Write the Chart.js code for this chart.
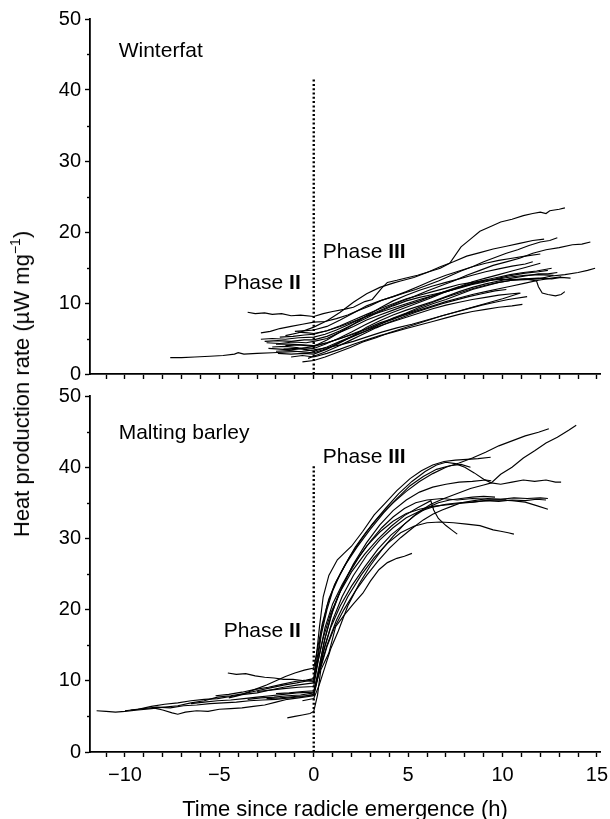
<!DOCTYPE html>
<html>
<head>
<meta charset="utf-8">
<script src="https://cdn.jsdelivr.net/npm/chart.js@4.4.0/dist/chart.umd.min.js"></script>
<style>
  body { margin: 0; background: #fff; }
  #wrap { position: relative; width: 610px; height: 819px; overflow: hidden;
          font-family: "Liberation Sans", Arial, sans-serif; color: #000; }
  canvas { position: absolute; left: 0; }
  #topChart { top: 0; }
  #botChart { top: 376px; }
  #ytitle { position: absolute; left: 22px; top: 384px; white-space: nowrap;
            font-size: 22px; transform: translate(-50%, -50%) rotate(-90deg); }
  #ytitle sup { font-size: 14px; vertical-align: 9px; line-height: 0; }
</style>
</head>
<body>
<div id="wrap">
  <canvas id="topChart" width="610" height="392"></canvas>
  <canvas id="botChart" width="610" height="443"></canvas>
  <div id="ytitle">Heat production rate (µW mg<sup>−1</sup>)</div>
</div>
<script>
// x = time since radicle emergence (h), y = heat production rate (µW mg-1)
const xMin = -11.85, xMax = 15.16;
const yMin = 0, yMax = 50;
const xTitle = 'Time since radicle emergence (h)';

// ---- Winterfat traces ----
const wf01 = [[-3.5,8.7],[-3.1,8.5],[-2.6,8.6],[-2.2,8.4],[-1.7,8.5],[-1.2,8.2],[-0.7,8.3],[0,8.1],[0.5,8.5],[1,8.8],[1.6,9.1],[2.1,9.4],[2.7,10.2],[3.1,10.5],[3.6,12.1],[3.9,12.9],[4.4,13.2],[5,13.6],[5.5,13.9],[6.1,14.4],[6.7,14.9],[7.2,15.6],[7.8,17.9],[8.3,19.0],[8.8,20.1],[9.4,20.8],[9.9,21.4],[10.5,21.8],[11.1,22.3],[11.6,22.6],[12,22.8],[12.3,22.6],[12.5,23.0],[13,23.2],[13.3,23.4]];
const wf02 = [[-7.6,2.3],[-7.0,2.3],[-6.3,2.4],[-5.5,2.5],[-4.8,2.6],[-4.2,2.8],[-4.0,3.0],[-3.7,2.8],[-3.0,2.9],[-2.2,3.0],[-1.4,3.1],[-0.6,3.2],[0,3.4],[0.7,3.7],[1.4,4.1],[2.1,4.6],[2.9,5.3],[3.6,5.9],[4.4,6.5],[5.2,7.0],[6,7.6],[6.8,8.2],[7.6,8.8],[8.4,9.4],[9.2,10.0],[10,10.6],[10.95,11.4]];
const wf03 = [[-2.8,5.8],[-2.3,6.0],[-1.8,6.4],[-1.2,6.7],[-0.6,7.0],[0,7.3],[0.6,7.4],[1.2,7.8],[1.8,8.3],[2.4,9.0],[3,9.6],[3.6,10.4],[4.2,10.9],[4.8,11.4],[5.4,11.9],[6,12.5],[6.6,13.1],[7.2,13.8],[7.8,14.5],[8.4,15.1],[9,15.8],[9.6,16.4],[10.2,17.0],[10.8,17.5],[11.4,18.1],[12,18.6],[12.5,18.8],[12.9,19.2]];
const wf04 = [[-2.8,4.9],[-2.2,5.0],[-1.5,4.9],[-0.8,5.1],[0,5.2],[0.6,5.6],[1.2,6.2],[1.8,6.9],[2.5,7.8],[3.2,8.6],[3.9,9.4],[4.6,10.2],[5.3,10.9],[6,11.7],[6.7,12.4],[7.4,13.1],[8.1,13.9],[8.8,14.6],[9.5,15.3],[10.2,15.8],[10.9,16.3],[11.6,17.0],[12.3,17.5],[13,17.8],[13.7,18.2],[14.2,18.3],[14.65,18.6]];
const wf05 = [[-2.5,4.4],[-1.8,4.3],[-1.1,4.5],[-0.4,4.4],[0,4.6],[0.7,5.0],[1.4,5.9],[2.1,6.7],[2.8,7.6],[3.5,8.3],[4.2,9.0],[4.9,9.7],[5.6,10.3],[6.3,11.0],[7,11.7],[7.7,12.3],[8.4,13.0],[9.1,13.5],[9.8,14.0],[10.5,14.5],[11.2,15.0],[12,15.6]];
const wf06 = [[-2.2,3.8],[-1.5,3.9],[-0.8,3.7],[0,3.6],[0.6,4.2],[1.3,5.0],[2,5.9],[2.7,6.9],[3.4,7.8],[4.1,8.6],[4.8,9.3],[5.5,10.0],[6.2,10.7],[6.9,11.5],[7.6,12.1],[8.3,12.7],[9,13.2],[9.7,13.6],[10.4,14.0],[11.1,14.3],[11.8,14.5],[12.6,14.9]];
const wf07 = [[-2,3.2],[-1.3,3.3],[-0.6,3.1],[0,3.0],[0.7,3.6],[1.4,4.5],[2.1,5.3],[2.8,6.1],[3.5,7.0],[4.2,7.9],[4.9,8.6],[5.6,9.4],[6.3,10.1],[7,10.8],[7.7,11.4],[8.4,12.0],[9.1,12.5],[9.8,12.9],[10.5,13.2],[11.2,13.3],[11.9,13.4],[12.6,13.8],[13.3,14.0],[14,14.3],[14.5,14.6],[14.9,14.9]];
const wf08 = [[-1.8,5.2],[-1.1,5.3],[-0.5,5.5],[0,5.6],[0.7,6.1],[1.4,6.8],[2.1,7.6],[2.8,8.4],[3.5,9.2],[4.2,9.9],[4.9,10.6],[5.6,11.1],[6.3,11.6],[7,12.1],[7.7,12.6],[8.4,12.9],[9.1,13.2],[9.8,13.3],[10.5,13.3],[11.2,13.4],[11.8,13.1],[11.9,12.3],[12.1,11.4],[12.4,11.2],[12.8,11.0],[13.1,11.2],[13.3,11.6]];
const wf09 = [[-1.5,4.0],[-0.8,4.1],[0,3.9],[0.7,4.4],[1.4,5.0],[2.1,5.6],[2.8,6.3],[3.5,7.0],[4.2,7.7],[4.9,8.5],[5.6,9.2],[6.3,9.9],[7,10.5],[7.7,11.2],[8.4,11.9],[9.1,12.4],[9.8,12.9],[10.5,13.2],[11.2,13.4],[11.9,13.5],[12.6,13.4],[13.1,13.6],[13.6,13.5]];
const wf10 = [[-1.2,2.4],[-0.6,2.6],[0,2.4],[0.7,2.9],[1.4,3.5],[2.1,4.2],[2.8,4.8],[3.5,5.4],[4.2,5.9],[4.9,6.4],[5.6,6.9],[6.3,7.4],[7,7.9],[7.7,8.4],[8.4,8.8],[9.1,9.1],[9.8,9.4],[10.5,9.6],[11.05,9.8]];
const wf11 = [[-0.6,1.7],[0,1.9],[0.6,2.4],[1.2,3.0],[1.9,3.7],[2.6,4.5],[3.3,5.1],[4,5.8],[4.7,6.4],[5.4,7.0],[6.1,7.6],[6.8,8.2],[7.5,8.7],[8.2,9.2],[8.9,9.7],[9.6,10.1],[10.3,10.5],[11.3,10.9]];
const wf12 = [[-2.6,4.6],[-1.9,4.7],[-1.2,4.6],[-0.5,4.8],[0,4.8],[0.7,5.3],[1.4,6.1],[2.1,7.0],[2.8,7.9],[3.5,8.8],[4.2,9.6],[4.9,10.3],[5.6,10.8],[6.3,11.2],[7,11.6],[7.7,12.2],[8.4,12.7],[9.1,13.1],[9.8,13.4],[10.5,13.7],[11.2,13.9],[11.9,14.0],[12.7,13.9]];
const wf13 = [[-1,6.0],[-0.4,6.1],[0,6.2],[0.7,6.7],[1.4,7.6],[2.1,8.6],[2.8,9.6],[3.5,10.3],[4.2,10.9],[4.9,11.6],[5.6,12.4],[6.3,13.2],[7,13.9],[7.7,14.5],[8.4,15.1],[9.1,15.6],[9.8,16.0],[10.5,16.3],[11.2,16.6],[12,16.9]];
const wf14 = [[-0.85,5.9],[-0.3,5.8],[0,5.7],[0.7,6.1],[1.4,6.7],[2.1,7.4],[2.8,8.1],[3.5,8.7],[4.2,9.3],[4.9,9.9],[5.6,10.5],[6.3,11.0],[7,11.6],[7.7,12.1],[8.4,12.6],[9.1,13.0],[9.8,13.5],[10.5,13.9],[11.2,14.2],[11.9,14.4],[12.4,14.6]];
const wf15 = [[-2,4.2],[-1.3,4.2],[-0.6,4.1],[0,4.0],[0.7,4.4],[1.4,5.0],[2.1,5.7],[2.8,6.4],[3.5,7.2],[4.2,7.8],[4.9,8.4],[5.6,9.0],[6.3,9.6],[7,10.2],[7.7,10.7],[8.4,11.2],[9.1,11.6],[9.8,12.0],[10.5,12.4],[11.2,12.8],[11.9,13.2],[12.6,13.5],[13.1,13.7]];
const wf16 = [[-1.6,3.5],[-0.9,3.6],[-0.3,3.4],[0,3.2],[0.7,3.8],[1.4,4.6],[2.1,5.4],[2.8,6.1],[3.5,6.8],[4.2,7.4],[4.9,8.0],[5.6,8.6],[6.3,9.2],[7,9.7],[7.7,10.1],[8.4,10.5],[9.1,10.8],[9.8,11.1],[10.5,11.3],[10.9,11.4]];
const wf17 = [[-0.3,2.2],[0,2.5],[0.6,3.1],[1.2,3.8],[1.9,4.7],[2.6,5.6],[3.3,6.5],[4,7.3],[4.7,8.0],[5.4,8.7],[6.1,9.3],[6.8,9.9],[7.5,10.4],[8.2,10.9],[8.9,11.3],[9.6,11.7],[10.2,11.9]];
const wf18 = [[-2.4,3.6],[-1.8,3.5],[-1.2,3.4],[-0.6,3.6],[0,3.9],[0.7,4.8],[1.4,5.9],[2.1,7.0],[2.8,8.2],[3.5,9.3],[4.2,10.3],[4.9,11.1],[5.6,11.8],[6.3,12.4],[7,12.9],[7.7,13.4],[8.4,13.9],[9.1,14.4],[9.8,14.8],[10.5,15.2],[11.2,15.5],[11.6,15.8]];
const wf19 = [[-1.9,2.9],[-1.2,2.8],[-0.5,2.9],[0,2.8],[0.7,3.5],[1.4,4.4],[2.1,5.4],[2.8,6.6],[3.5,7.5],[4.2,8.3],[4.9,9.0],[5.6,9.6],[6.3,10.2],[7,10.9],[7.7,11.6],[8.4,12.2],[9.1,12.7],[9.8,13.1],[10.5,13.5],[11.2,13.8],[11.9,14.1],[12.4,14.1],[12.9,14.3]];
const wf20 = [[-1.5,5.4],[-0.8,5.8],[0,6.6],[0.7,7.5],[1.4,8.7],[2.1,10.1],[2.8,11.3],[3.5,12.2],[4.2,12.8],[4.6,13.1],[5.3,13.6],[6,14.3],[6.7,15.1],[7.4,15.8],[8.1,16.6],[8.8,17.1],[9.5,17.6],[10.2,18.0],[10.9,18.4],[11.6,18.8],[12.2,19.0]];

// ---- Malting barley traces ----
const mb01 = [[-11.5,5.8],[-11,5.7],[-10.5,5.6],[-10,5.7],[-9.3,5.9],[-8.6,6.1],[-7.9,6.3],[-7.2,6.5],[-6.5,6.9],[-5.8,7.2],[-5.1,7.7],[-4.4,7.9],[-3.7,8.2],[-3,8.6],[-2.3,9.0],[-1.6,9.4],[-0.9,9.7],[-0.3,10.0],[0,10.1],[0.1,12.5],[0.3,17.5],[0.5,21.8],[0.8,24.8],[1.25,27.0],[1.6,27.9],[2,28.9],[2.6,31.0],[3.2,33.3],[3.8,35.0],[4.4,36.7],[5.1,38.4],[5.7,39.5],[6.3,40.3],[6.9,40.8],[7.5,41.0],[8.1,41.1],[8.7,41.2],[9.37,41.4]];
const mb02 = [[-10,5.8],[-9.3,6.0],[-8.6,6.4],[-7.9,6.7],[-7.2,6.9],[-6.5,7.2],[-5.8,7.4],[-5.1,7.5],[-4.4,7.8],[-3.7,8.1],[-3,8.3],[-2.3,8.7],[-1.6,9.1],[-0.9,9.4],[-0.3,9.6],[0,9.7],[0.2,12.8],[0.4,16.5],[0.7,20.0],[1,22.6],[1.4,25.0],[1.9,27.4],[2.5,29.8],[3.1,32.0],[3.8,34.2],[4.5,36.3],[5.2,38.0],[5.9,39.4],[6.5,40.3],[7,40.7],[7.5,40.5],[8,40.0],[8.5,39.2],[9,38.3],[9.4,37.8],[9.9,37.6],[10.5,37.9],[11.1,38.2],[11.7,38.0],[12.3,38.2],[12.8,37.9],[13.1,37.9]];
const mb03 = [[-8.5,6.2],[-8,5.9],[-7.5,5.5],[-7.2,5.3],[-6.8,5.6],[-6.2,5.8],[-5.6,5.7],[-5,6.0],[-4.4,6.1],[-3.8,6.2],[-3.2,6.4],[-2.6,6.6],[-2,7.0],[-1.4,7.4],[-0.8,7.6],[0,7.9],[0.2,10.2],[0.5,14.0],[0.9,17.5],[1.4,20.5],[2,23.3],[2.7,26.0],[3.4,28.5],[4.1,30.5],[4.8,32.0],[5.5,33.6],[6.2,34.8],[6.9,35.6],[7.6,36.3],[8.3,37.0],[9,37.5],[9.4,37.8],[9.9,39.0],[10.5,40.0],[11.1,41.3],[11.7,42.3],[12.3,43.4],[12.9,44.2],[13.5,45.2],[13.9,45.9]];
const mb04 = [[-5.2,7.9],[-4.5,8.1],[-3.8,8.4],[-3.1,8.8],[-2.4,9.1],[-1.7,9.5],[-1,9.9],[-0.4,10.1],[0,10.3],[0.2,13.5],[0.4,17.0],[0.7,20.5],[1.1,23.5],[1.6,26.0],[2.2,28.8],[2.8,31.0],[3.5,33.2],[4.2,35.0],[4.9,36.6],[5.6,38.0],[6.3,39.1],[7,40.0],[7.7,40.6],[8.4,41.3],[9.1,42.1],[9.8,43.0],[10.5,43.7],[11.2,44.4],[11.9,44.9],[12.45,45.4]];
const mb05 = [[-4.55,11.1],[-4.1,10.9],[-3.6,11.0],[-3.1,10.7],[-2.6,10.5],[-2.1,10.4],[-1.6,10.2],[-1.1,10.2],[-0.5,10.0],[0,9.9],[0.2,12.5],[0.5,16.0],[0.9,19.5],[1.4,22.5],[2,25.3],[2.7,27.8],[3.4,29.9],[4.1,31.7],[4.8,33.2],[5.5,34.3],[6.2,35.3],[6.35,34.0],[6.6,32.8],[7,31.8],[7.3,31.2],[7.6,30.6]];
const mb06 = [[-1.4,4.8],[-1.0,5.0],[-0.6,5.2],[-0.2,5.4],[0,5.7],[0.2,8.0],[0.37,11.5],[0.8,13.9],[1.16,17.6],[1.6,19.2],[2.1,20.8],[2.6,22.3],[3,24.0],[3.45,25.6],[3.9,26.6],[4.4,27.2],[4.8,27.5],[5.2,27.9]];
const mb07 = [[-3,8.5],[-2.3,8.7],[-1.6,8.9],[-0.8,9.1],[0,9.2],[0.25,13.0],[0.6,17.5],[1,20.8],[1.5,23.5],[2.1,26.3],[2.8,28.9],[3.5,30.9],[4.2,32.4],[4.9,33.5],[5.6,34.1],[6.3,34.5],[7,34.7],[7.7,34.9],[8.4,35.1],[9.1,35.3],[9.8,35.2],[10.5,35.4],[11.2,35.3],[11.8,35.5],[12.3,35.4]];
const mb08 = [[-2.5,7.5],[-1.8,7.6],[-1,7.8],[-0.4,7.9],[0,8.0],[0.25,11.0],[0.6,15.0],[1,18.5],[1.5,21.8],[2.1,24.8],[2.8,27.6],[3.5,29.8],[4.2,31.5],[4.9,32.9],[5.6,33.8],[6.3,34.4],[7,34.8],[7.7,35.0],[8.4,35.1],[9.1,35.3],[9.8,35.4],[10.5,35.3],[11.2,35.1],[11.8,34.6],[12.4,34.1]];
const mb09 = [[-2,8.2],[-1.3,8.3],[-0.6,8.5],[0,8.6],[0.3,11.5],[0.7,15.0],[1.2,18.5],[1.8,21.8],[2.5,24.8],[3.2,27.3],[3.9,29.3],[4.6,30.8],[5.3,31.7],[6,32.2],[6.7,32.3],[7.4,32.2],[8.1,32.0],[8.8,31.8],[9.5,31.2],[9.9,31.0],[10.3,30.8],[10.6,30.6]];
const mb10 = [[-4.5,7.6],[-4,7.9],[-3.5,8.4],[-3,8.9],[-2.5,9.4],[-2,10.0],[-1.5,10.6],[-1,11.1],[-0.5,11.5],[0,11.8],[0.2,14.5],[0.45,18.0],[0.8,21.5],[1.2,24.0],[1.7,26.4],[2.3,28.8],[3,31.3],[3.7,33.6],[4.4,35.6],[5.1,37.4],[5.8,38.7],[6.5,39.7],[7.2,40.2],[7.8,40.4],[8.3,40.0]];
const mb11 = [[-6.5,6.8],[-5.8,7.0],[-5.1,7.2],[-4.4,7.3],[-3.7,7.5],[-3,7.7],[-2.3,7.9],[-1.6,8.1],[-0.9,8.3],[0,8.4],[0.3,11.2],[0.7,14.8],[1.1,17.5],[1.6,20.0],[2.2,22.6],[2.8,24.8],[3.4,26.8],[4,28.6],[4.6,30.1],[5.2,31.4],[5.8,32.6],[6.3,33.4],[6.8,34.0],[7.3,34.5],[7.8,35.0],[8.5,35.3],[9.2,35.6],[9.9,35.5],[10.6,35.7],[11.3,35.6],[12,35.7],[12.4,35.6]];
const mb12 = [[-0.6,7.2],[0,7.5],[0.3,9.5],[0.6,12.0],[0.9,14.5],[1.3,17.0],[1.8,20.5],[2.4,23.6],[3,26.2],[3.6,28.4],[4.2,30.3],[4.8,32.0],[5.4,33.3],[6,34.3],[6.6,35.0],[7.2,35.4],[7.8,35.6],[8.4,35.8],[9,35.9],[9.6,35.8]];
const mb13 = [[-9.7,5.9],[-9,6.1],[-8.3,6.3],[-7.6,6.2],[-6.9,6.5],[-6.2,6.6],[-5.5,6.8],[-4.8,6.9],[-4.1,7.0],[-3.4,7.2],[-2.7,7.3],[-2,7.4],[-1.3,7.6],[-0.6,7.8],[0,8.1],[0.25,11.5],[0.55,15.5],[0.9,19.0],[1.3,22.0],[1.8,24.8],[2.4,27.4],[3,29.6],[3.6,31.5],[4.2,33.0],[4.8,34.2],[5.4,35.0],[6,35.4],[6.8,35.6],[7.6,35.4],[8.4,35.6],[9.3,35.5],[10.2,35.5]];
const mb14 = [[-3.5,7.4],[-2.8,7.6],[-2.1,7.7],[-1.4,7.9],[-0.7,8.0],[0,8.3],[0.3,12.0],[0.6,16.0],[1,19.8],[1.5,23.2],[2.1,26.4],[2.8,29.4],[3.5,31.9],[4.2,33.9],[4.9,35.4],[5.6,36.5],[6.3,37.2],[7,37.6],[7.7,37.9],[8.4,38.0],[9.1,38.2],[9.4,38.1]];

// dotted line at radicle emergence (x = 0)
const topDivider = [[0,0],[0,41.5]];
const botDivider = [[0,0],[0,40.3]];

const winterfat = [wf01,wf02,wf03,wf04,wf05,wf06,wf07,wf08,wf09,wf10,wf11,wf12,wf13,wf14,wf15,wf16,wf17,wf18,wf19,wf20];
const barley = [mb01,mb02,mb03,mb04,mb05,mb06,mb07,mb08,mb09,mb10,mb11,mb12,mb13,mb14];

// panel annotations, placed in data coordinates
const topNotes = [
  { parts: [['Winterfat', 'normal']], x: -10.33, y: 45.4 },
  { parts: [['Phase ', 'normal'], ['II', 'bold']], x: -4.77, y: 12.8 },
  { parts: [['Phase ', 'normal'], ['III', 'bold']], x: 0.48, y: 17.2 }
];
const botNotes = [
  { parts: [['Malting barley', 'normal']], x: -10.33, y: 44.8 },
  { parts: [['Phase ', 'normal'], ['II', 'bold']], x: -4.77, y: 17.0 },
  { parts: [['Phase ', 'normal'], ['III', 'bold']], x: 0.48, y: 41.4 }
];

const FONT = '"Liberation Sans", Arial, sans-serif';

const notesPlugin = {
  id: 'notes',
  afterDatasetsDraw(chart, args, opts) {
    const { ctx, scales: { x, y } } = chart;
    ctx.save();
    ctx.fillStyle = '#000';
    ctx.textBaseline = 'middle';
    ctx.textAlign = 'left';
    opts.items.forEach(n => {
      let px = x.getPixelForValue(n.x);
      const py = y.getPixelForValue(n.y);
      n.parts.forEach(([txt, weight]) => {
        ctx.font = weight + ' 21px ' + FONT;
        ctx.fillText(txt, px, py);
        px += ctx.measureText(txt).width;
      });
    });
    ctx.restore();
  }
};

// short minor ticks on the y axis
const minorTicks = {
  id: 'minorTicks',
  afterDraw(chart) {
    const { ctx, scales: { y } } = chart;
    ctx.save();
    ctx.strokeStyle = '#000';
    ctx.lineWidth = 1.4;
    y.ticks.forEach(t => {
      if (t.value % 10 !== 0) {
        const py = Math.round(y.getPixelForValue(t.value)) + 0.5;
        ctx.beginPath();
        ctx.moveTo(y.right - 3, py);
        ctx.lineTo(y.right, py);
        ctx.stroke();
      }
    });
    ctx.restore();
  }
};

const fmtX = v => (v < 0 ? '\u2212' + Math.abs(v) : String(v));

function panel(id, series, divider, notes, bottom) {
  const datasets = series.map(s => ({
    data: s, borderColor: '#000', borderWidth: 1.15, pointRadius: 0, tension: 0, fill: false
  }));
  datasets.push({
    data: divider, borderColor: '#000', borderWidth: 2.4, borderDash: [2, 2.3],
    pointRadius: 0, fill: false
  });
  return new Chart(document.getElementById(id), {
    type: 'line',
    data: { datasets },
    options: {
      responsive: false,
      animation: false,
      events: [],
      layout: { padding: bottom ? { top: 20, right: 10, bottom: 0, left: 0 }
                                : { top: 19, right: 10, bottom: 8, left: 0 } },
      plugins: { legend: { display: false }, tooltip: { enabled: false }, notes: { items: notes } },
      scales: {
        x: {
          type: 'linear', min: xMin, max: xMax,
          grid: { drawOnChartArea: false, tickLength: 5, tickColor: '#000', tickWidth: 1.4 },
          border: { color: '#000', width: 1.8 },
          ticks: {
            display: bottom, stepSize: 1, includeBounds: false, autoSkip: false,
            maxRotation: 0, padding: 6, color: '#000', font: { size: 20, family: FONT },
            callback: v => (v % 5 === 0 ? fmtX(v) : '')
          },
          title: {
            display: bottom, text: xTitle, color: '#000',
            font: { size: 22, family: FONT, lineHeight: 0.8 }, padding: { top: 0, bottom: 0 }
          },
          afterFit(s) { s.height = bottom ? 67 : 10; s.paddingLeft = 0; s.paddingRight = 0; }
        },
        y: {
          min: yMin, max: yMax,
          grid: {
            drawOnChartArea: false, tickLength: 5, tickWidth: 1.4,
            tickColor: c => (c.tick && c.tick.value % 10 === 0 ? '#000' : 'rgba(0,0,0,0)')
          },
          border: { color: '#000', width: 1.8 },
          ticks: {
            stepSize: 5, padding: 4, color: '#000', font: { size: 20, family: FONT },
            callback: v => (v % 10 === 0 ? String(v) : '')
          },
          afterFit(s) { s.width = 90; s.paddingTop = 0; s.paddingBottom = 0; }
        }
      }
    },
    plugins: [notesPlugin, minorTicks]
  });
}

panel('topChart', winterfat, topDivider, topNotes, false);
panel('botChart', barley, botDivider, botNotes, true);
</script>
</body>
</html>
